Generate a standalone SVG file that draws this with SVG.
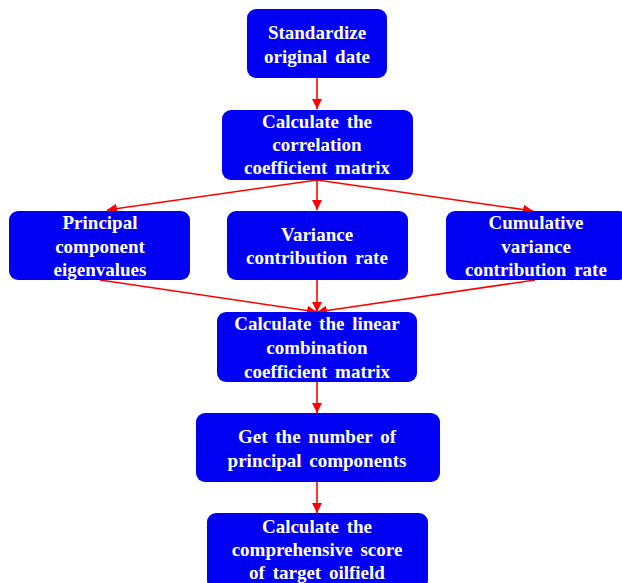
<svg xmlns="http://www.w3.org/2000/svg" width="622" height="583" viewBox="0 0 622 583">
<style>
.box{fill:#0000F2;}
.t{font-family:"Liberation Serif","Times New Roman",serif;font-weight:bold;font-size:19px;word-spacing:3px;fill:#ffffff;text-anchor:middle;}
.c{stroke:#FF0000;stroke-width:1.6;fill:none;marker-end:url(#ah);}
</style>
<defs>
<marker id="ah" viewBox="0 0 10 10" refX="10" refY="5" markerWidth="10" markerHeight="10" markerUnits="userSpaceOnUse" orient="auto">
<path d="M0,0 L10,5 L0,10 z" fill="#FF0000"/>
</marker>
</defs>
<rect width="622" height="583" fill="#ffffff"/>
<g id="connectors">
<line class="c" x1="317" y1="78" x2="317" y2="109"/>
<line class="c" x1="317" y1="180" x2="107" y2="210"/>
<line class="c" x1="317" y1="180" x2="317" y2="210"/>
<line class="c" x1="317" y1="180" x2="533" y2="211"/>
<line class="c" x1="100" y1="280" x2="317" y2="312"/>
<line class="c" x1="317" y1="280" x2="317" y2="312"/>
<line class="c" x1="535" y1="280" x2="317" y2="312"/>
<line class="c" x1="317" y1="382" x2="317" y2="413"/>
<line class="c" x1="317" y1="482" x2="317" y2="513"/>
</g>
<g id="n1">
<rect class="box" x="247" y="9" width="140" height="69" rx="9"/>
<text class="t" x="317" y="39">Standardize</text>
<text class="t" x="317" y="63">original date</text>
</g>
<g id="n2">
<rect class="box" x="222" y="110" width="191" height="70" rx="9"/>
<text class="t" x="317" y="128">Calculate the</text>
<text class="t" x="317" y="151">correlation</text>
<text class="t" x="317" y="174">coefficient matrix</text>
</g>
<g id="n3">
<rect class="box" x="9" y="211" width="181" height="69" rx="9"/>
<text class="t" x="100" y="229">Principal</text>
<text class="t" x="100" y="253">component</text>
<text class="t" x="100" y="276">eigenvalues</text>
</g>
<g id="n4">
<rect class="box" x="227" y="211" width="181" height="69" rx="9"/>
<text class="t" x="317" y="241">Variance</text>
<text class="t" x="317" y="264">contribution rate</text>
</g>
<g id="n5">
<rect class="box" x="446" y="211" width="182" height="69" rx="9"/>
<text class="t" x="536" y="229">Cumulative</text>
<text class="t" x="536" y="253">variance</text>
<text class="t" x="536" y="276">contribution rate</text>
</g>
<g id="n6">
<rect class="box" x="217" y="312" width="200" height="70" rx="9"/>
<text class="t" x="317" y="330">Calculate the linear</text>
<text class="t" x="317" y="354">combination</text>
<text class="t" x="317" y="378">coefficient matrix</text>
</g>
<g id="n7">
<rect class="box" x="196" y="413" width="244" height="69" rx="9"/>
<text class="t" x="317" y="443">Get the number of</text>
<text class="t" x="317" y="467">principal components</text>
</g>
<g id="n8">
<rect class="box" x="207" y="513" width="221" height="76" rx="9"/>
<text class="t" x="317" y="533">Calculate the</text>
<text class="t" x="317" y="556">comprehensive score</text>
<text class="t" x="317" y="579">of target oilfield</text>
</g>
</svg>
